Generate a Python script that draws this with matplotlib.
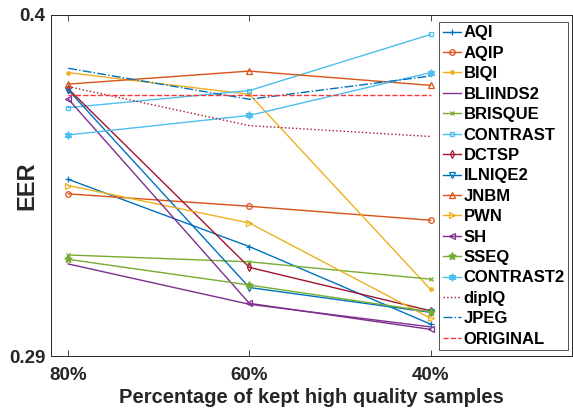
import matplotlib.pyplot as plt

plt.rcParams['font.family'] = ['Liberation Sans', 'DejaVu Sans']
plt.rcParams['font.weight'] = 'bold'

# percentage of kept high quality samples
x_vals = [80, 60, 40]
x_labels = ['80%', '60%', '40%']

names = ['AQI', 'AQIP', 'BIQI', 'BLIINDS2', 'BRISQUE', 'CONTRAST', 'DCTSP',
         'ILNIQE2', 'JNBM', 'PWN', 'SH', 'SSEQ', 'CONTRAST2', 'dipIQ',
         'JPEG', 'ORIGINAL']

# EER values
aqi = [0.3470, 0.3253, 0.3003]
aqip = [0.3423, 0.3383, 0.3338]
biqi = [0.3814, 0.3744, 0.3115]
bliinds2 = [0.3197, 0.3067, 0.2994]
brisque = [0.3226, 0.3204, 0.3148]
contrast = [0.3701, 0.3756, 0.3937]
dctsp = [0.3762, 0.3186, 0.3046]
ilniqe2 = [0.3758, 0.3121, 0.3041]
jnbm = [0.3777, 0.3819, 0.3773]
pwn = [0.3450, 0.3329, 0.3022]
sh = [0.3729, 0.3070, 0.2986]
sseq = [0.3212, 0.3129, 0.3043]
contrast2 = [0.3613, 0.3676, 0.3814]
dipiq = [0.3769, 0.3643, 0.3608]
jpeg = [0.3828, 0.3728, 0.3803]
original = [0.3742, 0.3742, 0.3742]

series = [aqi, aqip, biqi, bliinds2, brisque, contrast, dctsp, ilniqe2,
          jnbm, pwn, sh, sseq, contrast2, dipiq, jpeg, original]

# matlab default colours
c1 = (0, 0.447, 0.741)
c2 = (0.85, 0.325, 0.098)
c3 = (0.929, 0.694, 0.125)
c4 = (0.494, 0.184, 0.556)
c5 = (0.466, 0.674, 0.188)
c6 = (0.301, 0.745, 0.933)
c7 = (0.635, 0.078, 0.184)
colors = [c1, c2, c3, c4, c5, c6, c7, c1, c2, c3, c4, c5, c6, c7, c1, (1, 0.2, 0.2)]
star5 = (5, 1, 0)
star6 = (6, 1, 0)
markers = ['+', 'o', '.', '', 'x', 's', 'd', 'v', '^', '>', '<', star5, star6, '', '', '']
styles = ['-'] * 13 + [':', '-.', '--']
msizes = [4, 4, 5, 4, 3, 3.5, 4, 4, 4.5, 4.5, 4.5, 5.5, 5.5, 4, 4, 4]
open_markers = ['o', 's', '^', '>', '<', 'v', 'd']

fig = plt.figure(figsize=(5.73, 4.15), dpi=100)
ax = fig.add_axes([0.089, 0.142, 0.909, 0.822])

for name, y, c, m, ls, ms in zip(names, series, colors, markers, styles, msizes):
    ax.plot(x_vals, y, color=c, marker=m, linestyle=ls, linewidth=1.0,
            markersize=ms, markerfacecolor='none' if m in open_markers else c,
            markeredgewidth=0.9, label=name)

ax.set_xlim(81.9, 24.4)
ax.set_ylim(0.29, 0.4)
ax.set_xticks(x_vals)
ax.set_xticklabels(x_labels)
ax.set_yticks([0.29, 0.4])
ax.set_yticklabels(['0.29', '0.4'])
ax.tick_params(direction='in', length=4, width=0.6, labelsize=13.5,
               colors='#262626', top=True, right=False)
ax.tick_params(axis='x', pad=8)
ax.tick_params(axis='y', pad=4)
for sp in ax.spines.values():
    sp.set_color('#262626')
    sp.set_linewidth(0.7)

ax.set_xlabel('Percentage of kept high quality samples', fontsize=14.5,
              fontweight='bold', color='#262626', labelpad=3)
ax.set_ylabel('EER', fontsize=17, fontweight='bold', color='#262626')
ax.yaxis.set_label_coords(-0.025, 0.5)

leg = ax.legend(loc='upper right', bbox_to_anchor=(0.9925, 0.979), fontsize=12,
                frameon=True, fancybox=False, edgecolor='#262626',
                handlelength=1.1, handletextpad=0.15, labelspacing=0.325,
                borderpad=0.2, borderaxespad=0)
leg.get_frame().set_linewidth(0.7)
for t in leg.get_texts():
    t.set_fontweight('bold')

plt.savefig('out.png', dpi=100)
